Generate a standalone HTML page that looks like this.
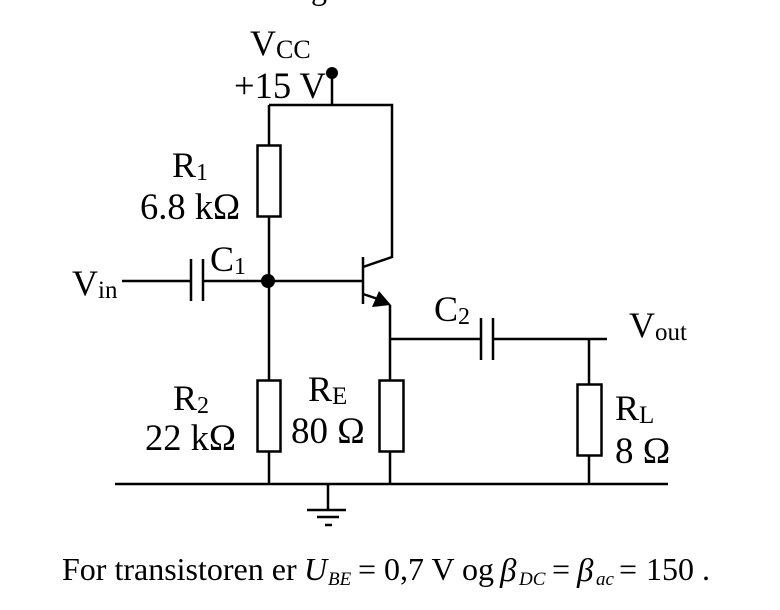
<!DOCTYPE html>
<html><head><meta charset="utf-8"><style>
html,body{margin:0;padding:0;background:#fff}
svg{display:block}
text{font-family:"Liberation Serif",serif;fill:#000}
</style></head><body>
<svg width="780" height="610" viewBox="0 0 780 610" xmlns="http://www.w3.org/2000/svg">
<g stroke="#000" stroke-width="2.5" fill="none">
<path d="M332 73V105M269 105H392V257L363 267M269 105V145M269 216V380M269 451V484"/>
<path d="M122 281H191M203 281H363M191 259V301M203 259V301"/>
<path d="M363 257V304M363 294L378 299M390 305V380M390 451V484M390 339H481M493 339H607M481 318V360M493 318V360"/>
<path d="M589 339V384M589 455V484M115 484H668M328 484V510M307 510H346M317 517H339M325 525H332"/>
<rect x="257.500" y="145.500" width="23" height="71" fill="#fff"/>
<rect x="257.500" y="380.500" width="23" height="71" fill="#fff"/>
<rect x="379.500" y="380.500" width="24" height="71" fill="#fff"/>
<rect x="577.500" y="384.500" width="24" height="71" fill="#fff"/>
</g>
<circle cx="332" cy="73" r="6"/>
<circle cx="268" cy="281" r="7"/>
<path d="M379 291L391 305L372 307Z"/>
<g font-size="36">
<text x="250" y="55">V<tspan font-size="26" dy="3">CC</tspan></text>
<text x="234" y="98" font-size="36.500">+15 V</text>
<text x="172" y="177">R<tspan font-size="24" dy="3">1</tspan></text>
<text x="140" y="219" font-size="36.500">6.8 kΩ</text>
<text x="72" y="295">V<tspan font-size="25" dy="3">in</tspan></text>
<text x="210" y="271">C<tspan font-size="24" dy="3">1</tspan></text>
<text x="434" y="321">C<tspan font-size="24" dy="3">2</tspan></text>
<text x="629" y="337">V<tspan font-size="25" dy="3">out</tspan></text>
<text x="173" y="410">R<tspan font-size="24" dy="3">2</tspan></text>
<text x="145" y="450" font-size="36.500">22 kΩ</text>
<text x="308" y="401">R<tspan font-size="25" dy="3">E</tspan></text>
<text x="291" y="443" font-size="37">80 Ω</text>
<text x="615" y="420">R<tspan font-size="25" dy="3">L</tspan></text>
<text x="615" y="463" font-size="37">8 Ω</text>
</g>
<text x="311" y="-1" font-size="32">g</text>
<g font-size="32">
<text x="62" y="580">For transistoren er</text>
<text x="304" y="580" font-style="italic">U</text>
<text x="328" y="585" font-size="19" font-style="italic">BE</text>
<text x="358" y="580">= 0,7 V og</text>
<text x="500" y="581" font-size="33" font-style="italic">β</text>
<text x="519" y="585" font-size="19" font-style="italic">DC</text>
<text x="552" y="580">=</text>
<text x="577" y="581" font-size="33" font-style="italic">β</text>
<text x="596" y="585" font-size="19" font-style="italic">ac</text>
<text x="619" y="580">=</text>
<text x="646" y="580">150</text>
<text x="702" y="580">.</text>
</g>
</svg>
</body></html>
